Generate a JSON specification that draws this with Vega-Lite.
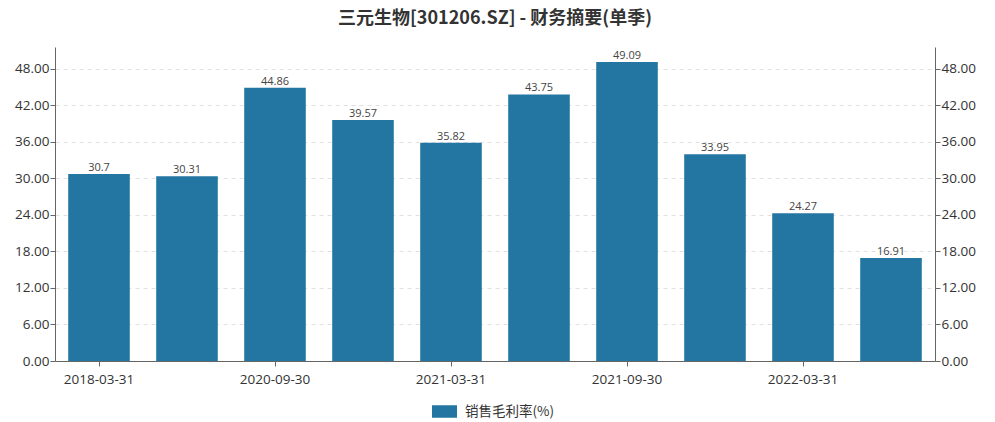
{
  "$schema": "https://vega.github.io/schema/vega-lite/v6.json",
  "width": 880,
  "height": 314,
  "autosize": {"type": "none"},
  "padding": {"left": 55, "top": 47, "right": 60, "bottom": 61},
  "background": "white",
  "title": {
    "text": "三元生物[301206.SZ] - 财务摘要(单季)",
    "font": "Noto Sans CJK SC",
    "fontSize": 18,
    "fontWeight": "bold",
    "color": "#333333",
    "anchor": "middle",
    "offset": 19
  },
  "config": {
    "view": {"stroke": null},
    "axis": {"labelFont": "Open Sans", "titleFont": "Open Sans"},
    "legend": {"labelFont": "Noto Sans CJK SC"}
  },
  "data": {
    "values": [
      {"date": "2018-03-31", "value": 30.7, "series": "销售毛利率(%)"},
      {"date": "2020-06-30", "value": 30.31, "series": "销售毛利率(%)"},
      {"date": "2020-09-30", "value": 44.86, "series": "销售毛利率(%)"},
      {"date": "2020-12-31", "value": 39.57, "series": "销售毛利率(%)"},
      {"date": "2021-03-31", "value": 35.82, "series": "销售毛利率(%)"},
      {"date": "2021-06-30", "value": 43.75, "series": "销售毛利率(%)"},
      {"date": "2021-09-30", "value": 49.09, "series": "销售毛利率(%)"},
      {"date": "2021-12-31", "value": 33.95, "series": "销售毛利率(%)"},
      {"date": "2022-03-31", "value": 24.27, "series": "销售毛利率(%)"},
      {"date": "2022-06-30", "value": 16.91, "series": "销售毛利率(%)"}
    ]
  },
  "encoding": {
    "x": {
      "field": "date",
      "type": "nominal",
      "sort": null,
      "scale": {"paddingInner": 0.3, "paddingOuter": 0.15},
      "axis": {
        "title": null,
        "values": ["2018-03-31", "2020-09-30", "2021-03-31", "2021-09-30", "2022-03-31"],
        "labelAngle": 0,
        "labelFontSize": 13.5,
        "labelColor": "#333333",
        "labelPadding": 6,
        "tickColor": "#666666",
        "tickSize": 5,
        "domainColor": "#666666",
        "grid": false
      }
    },
    "y": {
      "field": "value",
      "type": "quantitative",
      "scale": {"domain": [0, 51.54], "nice": false}
    }
  },
  "layer": [
    {
      "mark": {"type": "bar", "color": "#2376a2"},
      "encoding": {
        "fill": {
          "field": "series",
          "type": "nominal",
          "scale": {"range": ["#2376a2"]},
          "legend": {
            "title": null,
            "orient": "none",
            "legendX": 377,
            "legendY": 352,
            "direction": "horizontal",
            "labelFontSize": 13.5,
            "labelColor": "#333333",
            "labelOffset": 8,
            "symbolType": "M-1,-0.5 H1 V0.5 H-1 Z",
            "symbolSize": 625,
            "symbolStrokeWidth": 0
          }
        },
        "y": {
          "field": "value",
          "type": "quantitative",
          "axis": {
            "title": null,
            "orient": "left",
            "values": [0, 6, 12, 18, 24, 30, 36, 42, 48],
            "format": ".2f",
            "labelFontSize": 13.5,
            "labelColor": "#333333",
            "labelPadding": 1,
            "tickSize": 5,
            "tickColor": "#666666",
            "domainColor": "#666666",
            "grid": true,
            "gridColor": "#e0e0e0",
            "gridDash": [4, 4]
          }
        }
      }
    },
    {
      "mark": {"type": "text", "dy": -6, "fontSize": 11, "color": "#444444", "font": "Open Sans"},
      "encoding": {
        "text": {"field": "value", "type": "quantitative"},
        "y": {
          "field": "value",
          "type": "quantitative",
          "axis": {
            "title": null,
            "orient": "right",
            "values": [0, 6, 12, 18, 24, 30, 36, 42, 48],
            "format": ".2f",
            "labelFontSize": 13.5,
            "labelColor": "#333333",
            "labelPadding": 1,
            "tickSize": 5,
            "tickColor": "#666666",
            "domainColor": "#666666",
            "grid": false
          }
        }
      }
    }
  ],
  "resolve": {"axis": {"y": "independent"}}
}
